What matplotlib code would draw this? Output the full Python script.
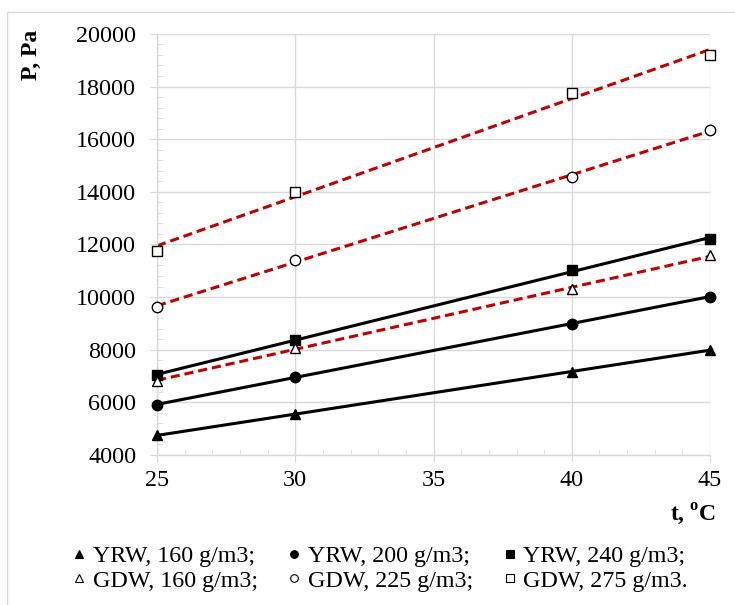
import numpy as np
import matplotlib.pyplot as plt
from matplotlib.lines import Line2D
from matplotlib.patches import Rectangle
from matplotlib.ticker import MultipleLocator

plt.rcParams.update({
    "font.family": "Liberation Serif",
    "mathtext.fontset": "custom",
    "mathtext.rm": "Liberation Serif",
    "mathtext.bf": "Liberation Serif:bold",
})

# data
t = [25, 30, 40, 45]
yrw_160 = [4750, 5550, 7150, 8000]
yrw_200 = [5900, 6980, 8980, 10020]
yrw_240 = [7040, 8370, 11030, 12210]
gdw_160 = [6810, 8070, 10310, 11580]
gdw_225 = [9620, 11420, 14560, 16350]
gdw_275 = [11750, 14000, 17760, 19200]

labels = ["YRW, 160 g/m3;", "YRW, 200 g/m3;", "YRW, 240 g/m3;",
          "GDW, 160 g/m3;", "GDW, 225 g/m3;", "GDW, 275 g/m3."]
series = [yrw_160, yrw_200, yrw_240, gdw_160, gdw_225, gdw_275]
markers = ["^", "o", "s", "^", "o", "s"]
filled = [True, True, True, False, False, False]

fig = plt.figure(figsize=(7.35, 6.05), dpi=100)
ax = fig.add_axes([0.2136, 0.248, 0.7525, 0.696])

# chart border (bottom edge falls outside the picture)
fig.patches.append(Rectangle((7.5 / 735, -0.05), 1.0, 1.05 - 12 / 605,
                             transform=fig.transFigure, fill=False,
                             edgecolor="#d9d9d9", linewidth=1.0))

xs = np.array([25, 45])
for vals, m, f in zip(series, markers, filled):
    k, b = np.polyfit(t, vals, 1)
    if f:
        ax.plot(xs, k * xs + b, color="black", linewidth=2.2, zorder=2)
    else:
        ax.plot(xs, k * xs + b, color="#c00000", linewidth=2.2,
                linestyle=(0, (3, 1.6)), zorder=2)
    ax.plot(t, vals, linestyle="none", marker=m,
            markersize=7.5 if m != "s" else 7,
            markerfacecolor="black" if f else "white",
            markeredgecolor="black", markeredgewidth=1.0, zorder=3,
            clip_on=False)

ax.set_xlim(25, 45)
ax.set_ylim(4000, 20000)
ax.xaxis.set_major_locator(MultipleLocator(5))
ax.xaxis.set_minor_locator(MultipleLocator(1))
ax.yaxis.set_major_locator(MultipleLocator(2000))
ax.yaxis.set_minor_locator(MultipleLocator(400))
ax.grid(True, which="major", color="#d9d9d9", linewidth=1.0, zorder=0)
ax.set_axisbelow(True)
for s in ["top", "right"]:
    ax.spines[s].set_visible(False)
for s in ["left", "bottom"]:
    ax.spines[s].set_color("#d9d9d9")
    ax.spines[s].set_linewidth(1.0)
ax.tick_params(which="major", direction="out", length=5, color="#d9d9d9",
               labelsize=17.4)
ax.tick_params(axis="x", which="major", pad=6)
ax.tick_params(axis="y", which="major", pad=10)
ax.tick_params(which="minor", direction="in", length=4, color="#d9d9d9")

ax.set_ylabel("P, Pa", fontsize=17, fontweight="bold")
ax.yaxis.set_label_coords(-0.208, 0.95)
ax.set_xlabel(r"t, $^{\mathbf{o}}$C", fontsize=17, fontweight="bold",
              ha="right")
ax.xaxis.set_label_coords(1.011, -0.112)

# legend (column-major order to get rows YRW / GDW)
handles = []
for m, f in zip(markers, filled):
    handles.append(Line2D([], [], linestyle="none", marker=m, markersize=5.5,
                          markerfacecolor="black" if f else "white",
                          markeredgecolor="black", markeredgewidth=0.8))
order = [0, 3, 1, 4, 2, 5]
fig.legend([handles[i] for i in order], [labels[i] for i in order],
           loc="center", bbox_to_anchor=(0.518, 0.0603), ncol=3, frameon=False,
           fontsize=17.3, handlelength=0.5, handletextpad=0.33,
           columnspacing=1.25, labelspacing=0.12, borderpad=0)

fig.savefig("out.png", dpi=100)
